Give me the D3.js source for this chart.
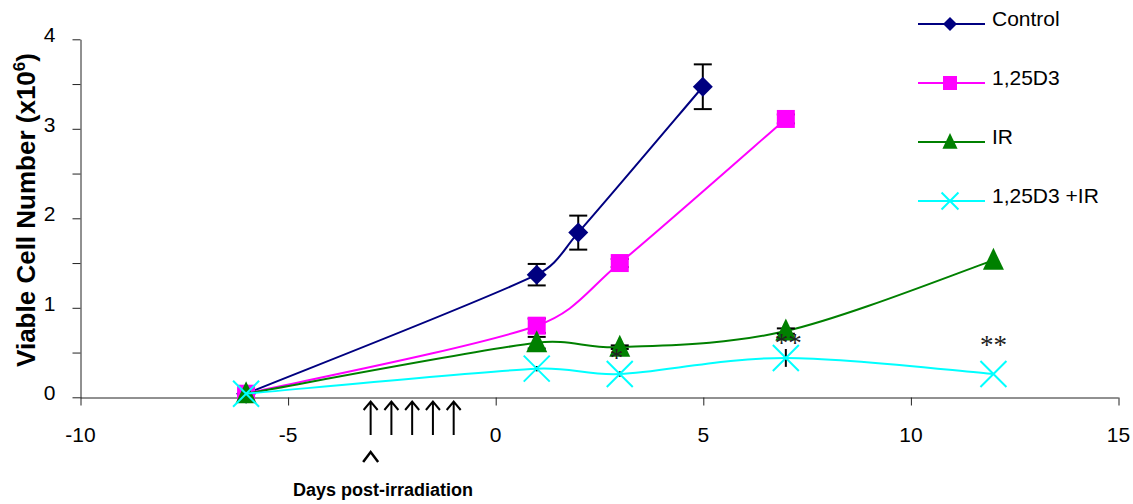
<!DOCTYPE html>
<html>
<head>
<meta charset="utf-8">
<script src="https://d3js.org/d3.v7.min.js"></script>
<style>
  body { margin: 0; background: #fff; }
  svg { display: block; }
  text { font-family: "Liberation Sans", Arial, sans-serif; }
</style>
</head>
<body>
<div id="chart"></div>
<script>
// values
var controlDays = [-6, 1, 2, 5];
var controlCells = [0.04, 1.37, 1.84, 3.47];
var controlErr = [0, 0.12, 0.19, 0.25];

var d3Days = [-6, 1, 3, 7];
var d3Cells = [0.04, 0.80, 1.50, 3.11];
var d3Err = [0, 0.08, 0.045, 0.05];

var irDays = [-6, 1, 3, 7, 12];
var irCells = [0.04, 0.61, 0.56, 0.74, 1.53];
var irErr = [0, 0.065, 0.02, 0.03, 0];

var comboDays = [-6, 1, 3, 7, 12];
var comboCells = [0.04, 0.32, 0.26, 0.44, 0.26];
var comboErr = [0, 0.03, 0.03, 0.1, 0];

var seriesNames = ["Control", "1,25D3", "IR", "1,25D3 +IR"];
var xTicks = [-10, -5, 0, 5, 10, 15];
var yTicks = [0, 0.5, 1, 1.5, 2, 2.5, 3, 3.5, 4];
var irradiationDays = [-3, -2.5, -2, -1.5, -1];
var caretDay = -3;
var starDays = [2.92, 7.06, 12];
var starCells = [0.47, 0.64, 0.62];
var starText = ["*", "**", "**"];

var W = 1133, H = 504;
var svg = d3.select("#chart").append("svg").attr("width", W).attr("height", H);

var x = d3.scaleLinear().domain([-10, 15]).range([80, 1118]);
var y = d3.scaleLinear().domain([0, 4]).range([397.3, 39.3]);

function zip(days, cells, err) {
    return days.map(function(d, i) { return {x: d, y: cells[i], e: err[i]}; });
}

var series = [
    {name: seriesNames[0], color: "#000080", shape: "diamond", cap: 9, data: zip(controlDays, controlCells, controlErr)},
    {name: seriesNames[1], color: "#ff00ff", shape: "square", cap: 9, data: zip(d3Days, d3Cells, d3Err)},
    {name: seriesNames[2], color: "#008000", shape: "triangle", cap: 9, data: zip(irDays, irCells, irErr)},
    {name: seriesNames[3], color: "#00ffff", shape: "cross", cap: 0, data: zip(comboDays, comboCells, comboErr)}
];

function markerPath(shape, s) {
    if (shape === "diamond") {
        var r = 10 * s;
        return "M0," + (-r) + "L" + r + ",0L0," + r + "L" + (-r) + ",0Z";
    }
    if (shape === "square") {
        var h = 9 * s;
        return "M" + (-h) + "," + (-h) + "H" + h + "V" + h + "H" + (-h) + "Z";
    }
    if (shape === "triangle") {
        return "M0," + (-12.5 * s) + "L" + (10.5 * s) + "," + (9.5 * s) + "L" + (-10.5 * s) + "," + (9.5 * s) + "Z";
    }
    var c = 13 * s;
    return "M" + (-c) + "," + (-c) + "L" + c + "," + c + "M" + (-c) + "," + c + "L" + c + "," + (-c);
}

function drawMarker(g, shape, color, s) {
    var p = g.append("path").attr("d", markerPath(shape, s));
    if (shape === "cross") {
        p.attr("fill", "none").attr("stroke", color).attr("stroke-width", 2);
    } else {
        p.attr("fill", color);
    }
}

// spreadsheet-style smoothed line: cardinal tangents, clipped on short segments
function smoothPath(data) {
    var pts = data.map(function(d) { return [x(d.x), y(d.y)]; });
    var n = pts.length;
    var tan = pts.map(function(p, i) {
        var a = pts[Math.max(0, i - 1)], b = pts[Math.min(n - 1, i + 1)];
        return [(b[0] - a[0]) / 6, (b[1] - a[1]) / 6];
    });
    function clip(t, len) {
        var l = Math.hypot(t[0], t[1]), m = 0.4 * len;
        return l > m ? [t[0] * m / l, t[1] * m / l] : t;
    }
    var p = d3.path();
    p.moveTo(pts[0][0], pts[0][1]);
    for (var i = 0; i < n - 1; i++) {
        var a = pts[i], b = pts[i + 1];
        var len = Math.hypot(b[0] - a[0], b[1] - a[1]);
        var t0 = clip(tan[i], len), t1 = clip(tan[i + 1], len);
        p.bezierCurveTo(a[0] + t0[0], a[1] + t0[1], b[0] - t1[0], b[1] - t1[1], b[0], b[1]);
    }
    return p.toString();
}

// axes
var yAxis = d3.axisLeft(y).tickValues(yTicks).tickSize(8).tickSizeOuter(0).tickPadding(17)
    .tickFormat(function(d) { return Number.isInteger(d) ? d : ""; });
var gy = svg.append("g").attr("transform", "translate(80.5,0)").call(yAxis);
gy.selectAll("text").attr("dy", "2.5").style("font-size", "21px").attr("fill", "#000");

var xAxis = d3.axisBottom(x).tickValues(xTicks).tickSize(8).tickSizeOuter(0);
var gx = svg.append("g").attr("transform", "translate(0,397.5)").call(xAxis);
gx.selectAll("text").attr("y", 44.2).attr("dy", 0).style("font-size", "21px").attr("fill", "#000")
    .text(function(d) { return d < 0 ? "-" + Math.abs(d) : d; });
svg.selectAll(".domain, .tick line").attr("stroke", "#222");
gx.selectAll(".tick line").attr("transform", "translate(0.5,0)");

// series
series.forEach(function(s) {
    var g = svg.append("g");
    g.append("path").attr("d", smoothPath(s.data))
        .attr("fill", "none").attr("stroke", s.color).attr("stroke-width", 2);

    var eb = g.selectAll(".err").data(s.data.filter(function(d) { return d.e > 0; })).enter().append("g");
    eb.append("line")
        .attr("x1", function(d) { return x(d.x); }).attr("x2", function(d) { return x(d.x); })
        .attr("y1", function(d) { return y(d.y + d.e); }).attr("y2", function(d) { return y(d.y - d.e); })
        .attr("stroke", "#000").attr("stroke-width", 2);
    if (s.cap > 0) {
        [1, -1].forEach(function(sign) {
            eb.append("line")
                .attr("x1", function(d) { return x(d.x) - s.cap; }).attr("x2", function(d) { return x(d.x) + s.cap; })
                .attr("y1", function(d) { return y(d.y + sign * d.e); }).attr("y2", function(d) { return y(d.y + sign * d.e); })
                .attr("stroke", "#000").attr("stroke-width", 2);
        });
    }

    s.data.forEach(function(d) {
        var m = g.append("g").attr("transform", "translate(" + x(d.x) + "," + y(d.y) + ")");
        drawMarker(m, s.shape, s.color, 1);
    });
});

// significance stars
starDays.forEach(function(d, i) {
    svg.append("text").attr("x", x(d)).attr("y", y(starCells[i]) + 12)
        .attr("text-anchor", "middle")
        .style("font-family", "'Liberation Serif', 'Times New Roman', serif")
        .style("font-size", "27px").attr("fill", "#222")
        .text(starText[i]);
});

// irradiation arrows below the axis
irradiationDays.forEach(function(d) {
    var cx = x(d);
    svg.append("path")
        .attr("d", "M" + cx + ",435V402M" + (cx - 7) + ",410L" + cx + ",401.5L" + (cx + 7) + ",410")
        .attr("fill", "none").attr("stroke", "#000").attr("stroke-width", 2);
});
var cx0 = x(caretDay);
svg.append("path")
    .attr("d", "M" + (cx0 - 7.5) + ",462L" + cx0 + ",452L" + (cx0 + 7.5) + ",462")
    .attr("fill", "none").attr("stroke", "#000").attr("stroke-width", 2.5);

// axis titles
svg.append("text").attr("x", 383).attr("y", 496).attr("text-anchor", "middle")
    .style("font-size", "18px").style("font-weight", "bold").text("Days post-irradiation");

var yt = svg.append("text").attr("transform", "translate(35,210) rotate(-90)")
    .attr("text-anchor", "middle").style("font-size", "26px").style("font-weight", "bold");
yt.append("tspan").text("Viable Cell Number (x10");
yt.append("tspan").attr("dy", -10).style("font-size", "17px").text("6");
yt.append("tspan").attr("dy", 10).text(")");

// legend
var legendY = [24, 83, 142, 201];
var legendScale = [0.7, 0.78, 0.72, 0.65];
series.forEach(function(s, i) {
    var g = svg.append("g").attr("transform", "translate(0," + legendY[i] + ")");
    g.append("line").attr("x1", 918).attr("x2", 985).attr("y1", 0).attr("y2", 0)
        .attr("stroke", s.color).attr("stroke-width", 2);
    var m = g.append("g").attr("transform", "translate(950,0)");
    drawMarker(m, s.shape, s.color, legendScale[i]);
    g.append("text").attr("x", 992).attr("y", 2).style("font-size", "21px").text(s.name);
});
</script>
</body>
</html>
